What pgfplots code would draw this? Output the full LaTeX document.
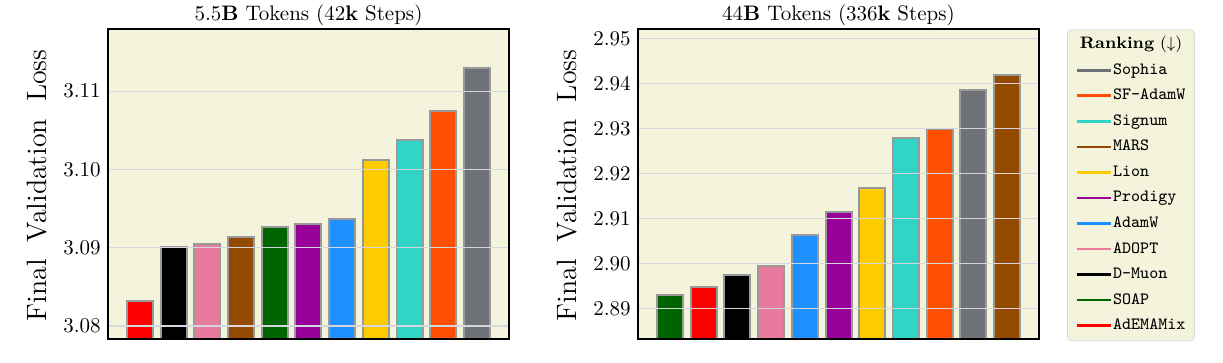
\documentclass[border=0pt]{standalone}
\usepackage{pgfplots}
\pgfplotsset{compat=1.18}
\usetikzlibrary{calc}
\definecolor{cRed}{HTML}{FF0000}
\definecolor{cBlack}{HTML}{000000}
\definecolor{cPink}{HTML}{E87A9E}
\definecolor{cBrown}{HTML}{944A00}
\definecolor{cGreen}{HTML}{006400}
\definecolor{cPurple}{HTML}{990099}
\definecolor{cBlue}{HTML}{1E90FF}
\definecolor{cYellow}{HTML}{FFCC00}
\definecolor{cCyan}{HTML}{30D5C8}
\definecolor{cOrange}{HTML}{FF4F00}
\definecolor{cGray}{HTML}{6E7175}
\definecolor{bgc}{HTML}{F4F4DC}
\definecolor{edgec}{HTML}{999999}
\definecolor{gridc}{HTML}{D6D6DE}
\pgfplotsset{
  mybars/.style={
    width=200.8pt, height=155pt, scale only axis,
    set layers, axis on top,
    axis background/.style={fill=bgc},
    axis line style={line width=1pt, black},
    ybar, bar width=13pt,
    every axis plot/.append style={bar shift=0pt, draw=edgec, line width=1pt},
    xmin=-0.95, xmax=10.95, xtick=\empty,
    ymajorgrids, grid style={gridc, line width=0.6pt, /pgfplots/on layer=axis background},
    major tick length=0pt, scaled y ticks=false,
    yticklabel style={font=\fontsize{10.5}{12}\selectfont},
    every axis title shift=0pt,
    every axis title/.style={at={(0.5,1)}, anchor=base, yshift=4.3pt, inner sep=1pt, font=\fontsize{10.5}{12}\selectfont},
    every axis y label/.style={at={($(rel axis cs:0,0.5)+(-30.8pt,-0.5pt)$)}, rotate=90, anchor=base, font=\fontsize{14}{16}\selectfont},
    ylabel={Final\hspace{0.6em}Validation\hspace{0.6em}Loss},
  },
  base/.style={
    y coord trafo/.code={\pgfmathparse{##1-#1}},
    y coord inv trafo/.code={\pgfmathparse{##1+#1}},
  },
  lg/.style={legend image code/.code={\draw[draw=#1, solid, line width=1.3pt] (0cm,0cm) -- (0.6cm,0cm);}},
}
\begin{document}
\begin{tikzpicture}
\begin{axis}[mybars, base=3.07, at={(0pt,0pt)},
  ymin=3.0783, ymax=3.1179, ytick={3.08,3.09,3.10,3.11},
  yticklabels={3.08,3.09,3.10,3.11},
  title={5.5\textbf{B} Tokens (42\textbf{k} Steps)}]
\addplot[fill=cRed] coordinates {(0,3.0832)};
\addplot[fill=cBlack] coordinates {(1,3.0901)};
\addplot[fill=cPink] coordinates {(2,3.0905)};
\addplot[fill=cBrown] coordinates {(3,3.0914)};
\addplot[fill=cGreen] coordinates {(4,3.0927)};
\addplot[fill=cPurple] coordinates {(5,3.0930)};
\addplot[fill=cBlue] coordinates {(6,3.0937)};
\addplot[fill=cYellow] coordinates {(7,3.1012)};
\addplot[fill=cCyan] coordinates {(8,3.1038)};
\addplot[fill=cOrange] coordinates {(9,3.1074)};
\addplot[fill=cGray] coordinates {(10,3.1129)};
\end{axis}
\begin{axis}[mybars, base=2.88, at={(265pt,0pt)},
  ymin=2.8831, ymax=2.9521, ytick={2.89,2.90,2.91,2.92,2.93,2.94,2.95},
  yticklabels={2.89,2.90,2.91,2.92,2.93,2.94,2.95},
  title={44\textbf{B} Tokens (336\textbf{k} Steps)},
  legend style={at={(1,1)}, anchor=north west, xshift=13.85pt,
    fill=bgc, draw=gray!30, rounded corners=2pt,
    font=\ttfamily\fontsize{8.6}{10}\selectfont, row sep=3.77pt,
    inner xsep=4pt, inner ysep=3pt,
    nodes={inner sep=0.5pt, text height=6pt, text depth=2pt}},
  legend cell align=left]
\addplot[fill=cGreen, forget plot] coordinates {(0,2.8930)};
\addplot[fill=cRed, forget plot] coordinates {(1,2.8947)};
\addplot[fill=cBlack, forget plot] coordinates {(2,2.8974)};
\addplot[fill=cPink, forget plot] coordinates {(3,2.8994)};
\addplot[fill=cBlue, forget plot] coordinates {(4,2.9064)};
\addplot[fill=cPurple, forget plot] coordinates {(5,2.9114)};
\addplot[fill=cYellow, forget plot] coordinates {(6,2.9167)};
\addplot[fill=cCyan, forget plot] coordinates {(7,2.9278)};
\addplot[fill=cOrange, forget plot] coordinates {(8,2.9300)};
\addplot[fill=cGray, forget plot] coordinates {(9,2.9387)};
\addplot[fill=cBrown, forget plot] coordinates {(10,2.9420)};
\addlegendimage{empty legend}
\addlegendentry{\makebox[0pt][l]{\hspace*{-22.5pt}\makebox[63pt][c]{\rmfamily\fontsize{8.3}{10}\selectfont\textbf{Ranking} ($\downarrow$)}}}
\addlegendimage{lg=cGray}\addlegendentry{Sophia}
\addlegendimage{lg=cOrange}\addlegendentry{SF-AdamW}
\addlegendimage{lg=cCyan}\addlegendentry{Signum}
\addlegendimage{lg=cBrown}\addlegendentry{MARS}
\addlegendimage{lg=cYellow}\addlegendentry{Lion}
\addlegendimage{lg=cPurple}\addlegendentry{Prodigy}
\addlegendimage{lg=cBlue}\addlegendentry{AdamW}
\addlegendimage{lg=cPink}\addlegendentry{ADOPT}
\addlegendimage{lg=cBlack}\addlegendentry{D-Muon}
\addlegendimage{lg=cGreen}\addlegendentry{SOAP}
\addlegendimage{lg=cRed}\addlegendentry{AdEMAMix}
\end{axis}
\useasboundingbox (-53.85pt,-11.85pt) rectangle (557.65pt,169.65pt);
\end{tikzpicture}
\end{document}
